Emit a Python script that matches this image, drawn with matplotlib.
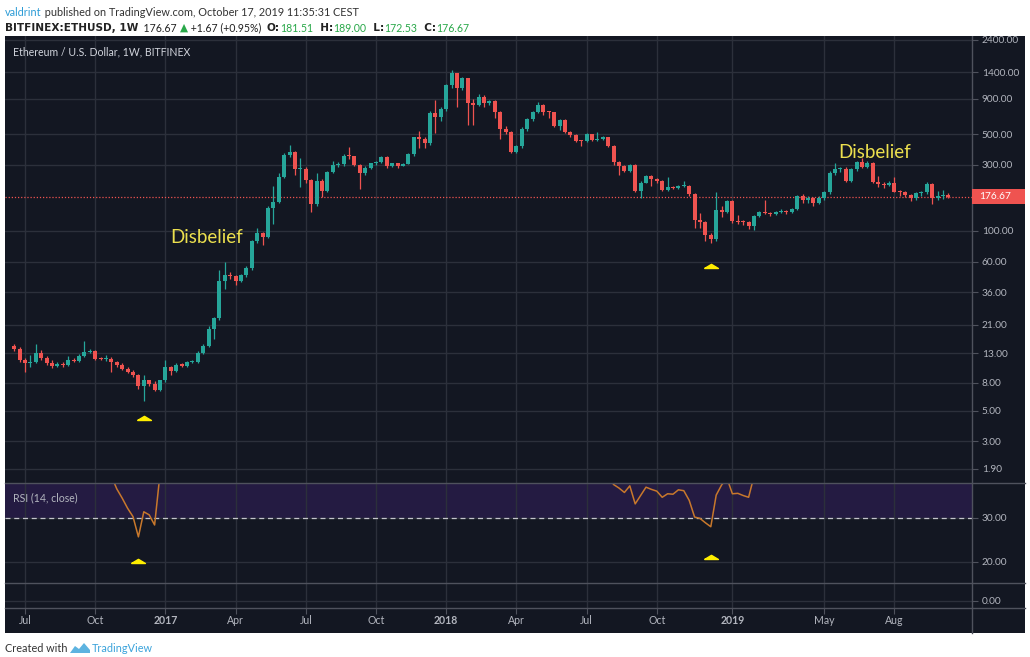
import matplotlib.pyplot as plt
from matplotlib.patches import Rectangle, Polygon
from matplotlib.lines import Line2D
from matplotlib.ticker import FixedLocator, NullLocator, FixedFormatter
import matplotlib.transforms as mtransforms
import pandas as pd

plt.rcParams['font.family'] = ['Lato', 'DejaVu Sans']

W, H = 1030, 657

# weekly candles, BITFINEX:ETHUSD, starting week of 2016-06-20
start_week = '2016-06-20'
first_open = 14.8
closes = [13.9, 11.7, 11.0, 11.2, 13.1, 12.0, 11.1, 10.6, 10.8, 10.7,
          11.7, 11.5, 12.4, 13.3, 13.5, 11.9, 11.8, 11.9, 11.2, 10.8,
          10.1, 9.6, 9.1, 7.5, 8.3, 7.8, 7.1, 8.3, 10.3, 9.7,
          10.7, 10.6, 11.2, 11.3, 13.1, 14.8, 19.6, 23.4, 43.6, 48.2,
          47.3, 43.6, 47.6, 53.8, 84.9, 96.0, 91.0, 147, 162, 247,
          352, 370, 278, 280, 233, 157, 230, 195, 265, 300,
          305, 347, 345, 300, 260, 286, 308, 316, 340, 294,
          307, 296, 306, 358, 475, 461, 430, 715, 662, 756,
          1134, 1377, 1074, 1268, 836, 813, 933, 845, 870, 727,
          542, 521, 374, 411, 545, 641, 728, 813, 727, 720,
          573, 633, 521, 493, 449, 445, 501, 452, 465, 478,
          411, 316, 294, 272, 300, 195, 223, 249, 236, 228,
          197, 208, 205, 210, 212, 185, 120, 116, 93, 87,
          141, 138, 165, 118, 116, 115, 108, 128, 137, 135,
          133, 137, 140, 137, 143, 178, 167, 172, 160, 172,
          190, 263, 279, 282, 230, 278, 316, 291, 312, 227,
          219, 215, 220, 192, 190, 183, 172, 187, 190, 217,
          172, 178, 181.5, 176.67]
highs = [15.2, 14.4, 12.1, 12.6, 15.3, 13.8, 12.4, 11.6, 11.3, 11.2,
         12.4, 12.0, 12.8, 16.0, 14.0, 13.7, 12.2, 12.6, 12.2, 11.4,
         11.1, 10.4, 9.8, 9.2, 9.0, 8.4, 8.2, 8.4, 11.6, 10.6,
         11.0, 11.0, 11.4, 11.6, 13.5, 15.2, 20.5, 24.0, 52.0, 59.8,
         50.5, 48.0, 48.5, 55.5, 86.0, 104, 98, 150, 210, 260,
         365, 418, 375, 335, 290, 238, 262, 236, 270, 320,
         315, 360, 402, 350, 305, 292, 312, 322, 350, 345,
         312, 310, 312, 365, 480, 530, 475, 740, 883, 790,
         1150, 1450, 1390, 1290, 1275, 900, 970, 960, 885, 880,
         740, 570, 530, 420, 560, 650, 740, 859, 820, 735,
         725, 640, 640, 530, 500, 455, 510, 505, 520, 485,
         480, 415, 320, 300, 305, 302, 228, 252, 253, 240,
         232, 245, 212, 215, 230, 215, 187, 135, 118, 97,
         192, 150, 168, 167, 130, 120, 117, 131, 140, 168,
         138, 140, 143, 142, 146, 183, 185, 178, 176, 178,
         195, 270, 308, 290, 290, 285, 322, 335, 318, 316,
         250, 225, 228, 246, 196, 195, 186, 190, 194, 225,
         220, 195, 198, 189]
lows = [13.5, 11.3, 9.5, 10.4, 11.0, 11.6, 10.8, 10.2, 10.4, 10.4,
        10.6, 11.2, 11.3, 12.2, 13.0, 11.6, 11.6, 11.5, 9.6, 10.4,
        9.8, 9.3, 8.8, 7.2, 5.9, 7.6, 7.0, 7.0, 8.1, 9.0,
        9.5, 10.3, 10.4, 11.0, 11.1, 12.8, 14.5, 16.5, 22.5, 38.0,
        44.5, 40.5, 42.5, 46.5, 52.5, 82, 79, 89, 112, 158,
        240, 340, 253, 206, 222, 137, 150, 175, 192, 262,
        290, 295, 330, 292, 200, 255, 280, 300, 312, 285,
        290, 285, 292, 302, 350, 395, 395, 420, 508, 620,
        740, 1080, 791, 1050, 583, 583, 800, 790, 810, 650,
        461, 505, 365, 365, 400, 530, 625, 715, 690, 650,
        560, 540, 510, 480, 440, 410, 440, 445, 450, 455,
        405, 300, 253, 268, 268, 190, 172, 220, 210, 222,
        193, 195, 200, 202, 206, 180, 105, 105, 84, 82,
        85, 125, 135, 114, 112, 111, 103, 102, 125, 132,
        129, 130, 134, 133, 135, 141, 160, 160, 150, 156,
        168, 186, 255, 265, 225, 225, 272, 285, 285, 220,
        208, 205, 210, 190, 180, 175, 165, 168, 180, 186,
        156, 168, 170, 172.53]
last_price = 176.67

# RSI(14) only where it is inside the visible window (candle number, values)
rsi_2016_from = 18
rsi_2016 = [39.5, 36.6, 34.5, 32.2, 30.3, 25.7, 31.4, 30.7, 28.4, 40.0]
rsi_2018_from = 110
rsi_2018 = [39.5, 37.6, 36.8, 35.8, 37.3, 33.2, 35.1, 37.0, 36.5, 36.1,
            34.7, 35.5, 35.4, 36.4, 36.2, 34.0, 30.2, 29.9, 28.9, 28.0,
            35.2, 37.5, 39.0, 35.5, 35.6, 35.1, 34.7, 39.5]

# yellow markers
sig_candles = [24, 129]
sig_prices = [4.3, 54.0]
rsi_sig_candles = [23, 129]
rsi_sig_values = [19.8, 20.7]

notes = ['Disbelief', 'Disbelief']
note_candles = [35.7, 159.4]
note_prices = [90.0, 366.0]

price_ticks = [1.90, 3, 5, 8, 13, 21, 36, 60, 100, 300, 500, 900, 1400, 2400]
rsi_ticks = [20, 30]
month_marks = [(2016, 7, 'Jul'), (2016, 10, 'Oct'), (2017, 1, '2017'), (2017, 4, 'Apr'),
               (2017, 7, 'Jul'), (2017, 10, 'Oct'), (2018, 1, '2018'), (2018, 4, 'Apr'),
               (2018, 7, 'Jul'), (2018, 10, 'Oct'), (2019, 1, '2019'), (2019, 5, 'May'),
               (2019, 8, 'Aug')]

BG = '#131722'
GRID = '#2c303b'
SEP = '#4f525d'
TXT = '#b2b5be'
UP = '#26a69a'
DOWN = '#ef5350'


def fx(px):
    return px / W


def fy(py):
    return 1 - py / H


def box(x0, y0, x1, y1):
    return [fx(x0), fy(y1), fx(x1) - fx(x0), fy(y0) - fy(y1)]


fig = plt.figure(figsize=(W / 100, H / 100), dpi=100)
fig.patch.set_facecolor('white')
fig.add_artist(Rectangle((fx(5), fy(633)), fx(1025) - fx(5), fy(36) - fy(633),
                         transform=fig.transFigure, facecolor=BG, edgecolor='none', zorder=-1))

ax = fig.add_axes(box(5, 36, 972, 483))
ax_rsi = fig.add_axes(box(5, 483, 972, 583), sharex=ax)
ax_low = fig.add_axes(box(5, 583, 972, 608), sharex=ax)

dates = pd.date_range(start_week, periods=len(closes), freq='7D')
xs = list(range(len(closes)))
opens = [first_open] + closes[:-1]

month_x = []
for yr, mo, lab in month_marks:
    idx = [i for i, d in enumerate(dates) if d.year == yr and d.month == mo][0]
    month_x.append(idx)

for a in (ax, ax_rsi, ax_low):
    a.set_facecolor(BG)
    for s in a.spines.values():
        s.set_visible(False)
    a.set_xlim(-1.704, 177.37)
    a.xaxis.set_major_locator(FixedLocator(month_x))
    a.grid(True, axis='both', color=GRID, lw=1)
    a.set_axisbelow(True)
    a.tick_params(axis='x', labelbottom=False, bottom=False)
    a.yaxis.tick_right()
    a.tick_params(axis='y', which='both', left=False, right=True, labelleft=False,
                  labelright=True, colors=SEP, labelcolor=TXT, labelsize=7.3, length=4, pad=3)

ax_low.tick_params(axis='x', bottom=True, length=4, color=SEP)

# candles
for x, o, h, l, c in zip(xs, opens, highs, lows, closes):
    col = UP if c >= o else DOWN
    ax.vlines(x, l, h, color=col, lw=0.9, zorder=2)
    lo, hi = min(o, c), max(o, c)
    if hi / lo < 1.02:
        hi = lo * 1.02
    ax.bar(x, hi - lo, bottom=lo, width=0.72, color=col, lw=0, zorder=3)

ax.set_yscale('log')
ax.set_ylim(1.502, 2564)
ax.yaxis.set_major_locator(FixedLocator(price_ticks))
ax.yaxis.set_minor_locator(NullLocator())
ax.yaxis.set_major_formatter(FixedFormatter(['%.2f' % v for v in price_ticks]))

ax.axhline(last_price, color=DOWN, lw=0.9, ls=(0, (1, 1.5)), zorder=1)
tri = [(-1, 0), (1, 0), (0, 0.6), (-1, 0)]
ax.plot(sig_candles, sig_prices, ls='none', marker=tri, ms=10, color='#ffee00', zorder=4)
for t, xc, yp in zip(notes, note_candles, note_prices):
    ax.text(xc, yp, t, color='#ece04e', fontsize=13.5, ha='center', va='center', zorder=5)
ax.text(0.008, 0.965, 'Ethereum / U.S. Dollar, 1W, BITFINEX',
        transform=ax.transAxes, color='#d1d4dc', fontsize=7.6, ha='left', va='center')

# RSI pane
ax_rsi.axhspan(30, 70, color='#241b42', lw=0, zorder=0)
ax_rsi.axhline(30, color='#c4c4cc', lw=0.9, ls=(0, (4, 3)), zorder=1)
ax_rsi.plot(range(rsi_2016_from, rsi_2016_from + len(rsi_2016)), rsi_2016, color='#c8782c', lw=1.1, zorder=3)
ax_rsi.plot(range(rsi_2018_from, rsi_2018_from + len(rsi_2018)), rsi_2018, color='#c8782c', lw=1.1, zorder=3)
ax_rsi.plot(rsi_sig_candles, rsi_sig_values, ls='none', marker=tri, ms=10, color='#ffee00', zorder=4)
ax_rsi.set_ylim(15.2, 37.95)
ax_rsi.yaxis.set_major_locator(FixedLocator(rsi_ticks))
ax_rsi.yaxis.set_major_formatter(FixedFormatter(['%.2f' % v for v in rsi_ticks]))
ax_rsi.text(0.008, 0.85, 'RSI (14, close)', transform=ax_rsi.transAxes, color=TXT,
            fontsize=7.6, ha='left', va='center')

ax_low.set_ylim(-0.28, 0.72)
ax_low.yaxis.set_major_locator(FixedLocator([0]))
ax_low.yaxis.set_major_formatter(FixedFormatter(['0.00']))

# time axis labels
blend = mtransforms.blended_transform_factory(ax.transData, fig.transFigure)
for xm, (yr, mo, lab) in zip(month_x, month_marks):
    ax.text(xm, fy(620), lab, transform=blend, color=TXT, fontsize=7.6,
            fontweight='bold' if mo == 1 else 'normal', ha='center', va='center')

# pane separators
for yy in (483, 583, 608):
    fig.add_artist(Line2D([fx(5), fx(1025)], [fy(yy), fy(yy)], transform=fig.transFigure, color=SEP, lw=1))
fig.add_artist(Line2D([fx(972), fx(972)], [fy(36), fy(633)], transform=fig.transFigure, color=SEP, lw=1))

# last price badge
fig.add_artist(Rectangle((fx(972), fy(204)), fx(1025) - fx(972), fy(189) - fy(204),
                         transform=fig.transFigure, facecolor=DOWN, edgecolor='none', zorder=6))
fig.text(fx(979), fy(196.5), '%.2f' % last_price, color='white', fontsize=7.3, ha='left', va='center', zorder=7)

# white header band
fig.add_artist(Rectangle((0, fy(36)), 1, 1 - fy(36), transform=fig.transFigure,
                         facecolor='white', edgecolor='none', zorder=5))

renderer = fig.canvas.get_renderer()


def write_runs(x_px, y_px, runs, size):
    x = fx(x_px)
    for s, col, wt, fam in runs:
        t = fig.text(x, fy(y_px), s, color=col, fontsize=size, fontweight=wt,
                     ha='left', va='center', zorder=10, family=fam)
        x += t.get_window_extent(renderer).width / W


base = ['Lato', 'DejaVu Sans']
wide = ['DejaVu Sans']
green = '#2aa84a'
write_runs(5, 12, [('valdrint', '#2d9cd6', 'normal', base),
                   (' published on TradingView.com, October 17, 2019 11:35:31 CEST', '#333333', 'normal', base)], 7.85)
write_runs(5, 28, [('BITFINEX:ETHUSD, 1W', '#222222', 'bold', wide),
                   ('  176.67 ', '#222222', 'normal', base),
                   ('\u25b2', green, 'normal', wide),
                   (' +1.67 (+0.95%)  ', '#222222', 'normal', base),
                   ('O:', '#222222', 'bold', wide), ('181.51', green, 'normal', base),
                   ('  H:', '#222222', 'bold', wide), ('189.00', green, 'normal', base),
                   ('  L:', '#222222', 'bold', wide), ('172.53', green, 'normal', base),
                   ('  C:', '#222222', 'bold', wide), ('176.67', green, 'normal', base)], 7.6)

write_runs(5, 648, [('Created with', '#333333', 'normal', base)], 7.8)
fig.add_artist(Polygon([(fx(70), fy(653)), (fx(75), fy(646)), (fx(79), fy(649)), (fx(84), fy(643)),
                        (fx(90), fy(650)), (fx(90), fy(653))], closed=True, transform=fig.transFigure,
                       facecolor='#5db3e0', edgecolor='none', zorder=10))
write_runs(92, 648, [('TradingView', '#3ba3db', 'normal', base)], 7.8)

fig.savefig('out.png', dpi=100, facecolor='white')
